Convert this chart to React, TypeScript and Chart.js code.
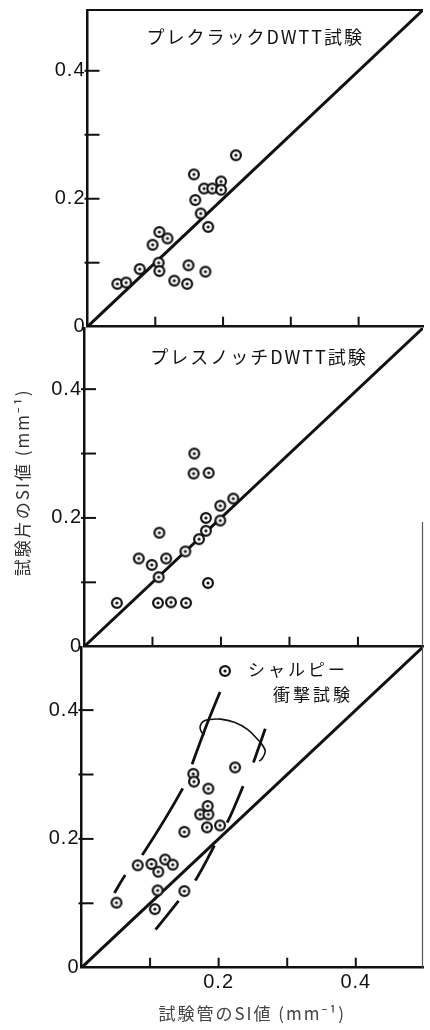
import React, { useEffect, useRef } from 'react';
import { Chart, registerables } from 'chart.js';

Chart.register(...registerables);

// ---------------- data ----------------
const TICK_VALUES = [0, 0.1, 0.2, 0.3, 0.4];
const Y_LABELED = [0, 0.2, 0.4];
const X_LABELED = [0.2, 0.4];

const DIAG_X = [0, 0.5];
const DIAG_Y = [0, 0.5];

const TITLE_PRECRACK = 'プレクラックDWTT試験';
const TITLE_PRESSNOTCH = 'プレスノッチDWTT試験';
const LEGEND_CHARPY = ['シャルピー', '衝撃試験'];
const Y_TITLE = '試験片のSI値 (mm⁻¹)';
const X_TITLE = '試験管のSI値 (mm⁻¹)';

// プレクラックDWTT試験
const PRECRACK_X = [0.044, 0.057, 0.077, 0.096, 0.106, 0.118, 0.105, 0.106, 0.128, 0.149, 0.147, 0.174, 0.178, 0.167, 0.159, 0.157, 0.172, 0.184, 0.197, 0.197, 0.219];
const PRECRACK_Y = [0.067, 0.069, 0.090, 0.128, 0.148, 0.138, 0.100, 0.087, 0.072, 0.096, 0.067, 0.086, 0.156, 0.177, 0.198, 0.238, 0.216, 0.216, 0.227, 0.214, 0.268];

// プレスノッチDWTT試験
const PRESSNOTCH_X = [0.048, 0.108, 0.127, 0.149, 0.181, 0.080, 0.099, 0.120, 0.109, 0.110, 0.148, 0.168, 0.178, 0.178, 0.199, 0.199, 0.218, 0.161, 0.160, 0.182];
const PRESSNOTCH_Y = [0.068, 0.068, 0.069, 0.068, 0.099, 0.137, 0.127, 0.137, 0.108, 0.177, 0.148, 0.167, 0.180, 0.200, 0.196, 0.219, 0.230, 0.300, 0.269, 0.270];

// シャルピー衝撃試験
const CHARPY_X = [0.051, 0.107, 0.111, 0.150, 0.082, 0.102, 0.112, 0.122, 0.133, 0.150, 0.183, 0.202, 0.173, 0.185, 0.184, 0.185, 0.163, 0.164, 0.224];
const CHARPY_Y = [0.101, 0.091, 0.120, 0.119, 0.159, 0.161, 0.149, 0.168, 0.160, 0.211, 0.218, 0.221, 0.238, 0.238, 0.251, 0.278, 0.301, 0.289, 0.311];

// scatter band (dashed envelopes) and bracket
const BAND_LEFT_X = [0.048, 0.064, 0.091, 0.151, 0.163, 0.184, 0.202];
const BAND_LEFT_Y = [0.116, 0.144, 0.179, 0.285, 0.321, 0.381, 0.428];
const BAND_RIGHT_X = [0.108, 0.141, 0.168, 0.196, 0.216, 0.239, 0.247, 0.268];
const BAND_RIGHT_Y = [0.059, 0.103, 0.139, 0.194, 0.233, 0.290, 0.308, 0.371];
const BRACKET_X = [0.179, 0.174, 0.173, 0.177, 0.184, 0.203, 0.223, 0.242, 0.259, 0.263, 0.268, 0.263, 0.259];
const BRACKET_Y = [0.361, 0.368, 0.375, 0.382, 0.385, 0.386, 0.381, 0.370, 0.352, 0.347, 0.336, 0.324, 0.321];

// ---------------- helpers ----------------
const INK = '#111';
const TICK_FONT = { family: '"Liberation Sans", Arial, sans-serif', size: 20 };
const JP_FAMILY = '"Noto Sans CJK JP", "Noto Sans", sans-serif';

let markerCache: HTMLCanvasElement | null = null;
function marker(): HTMLCanvasElement {
  if (markerCache) return markerCache;
  const c = document.createElement('canvas');
  c.width = 14;
  c.height = 14;
  const g = c.getContext('2d')!;
  g.beginPath();
  g.arc(7, 7, 4.9, 0, Math.PI * 2);
  g.fillStyle = '#fff';
  g.fill();
  g.lineWidth = 2.2;
  g.strokeStyle = INK;
  g.stroke();
  g.beginPath();
  g.arc(7, 7, 1.6, 0, Math.PI * 2);
  g.fillStyle = INK;
  g.fill();
  markerCache = c;
  return c;
}

const pts = (xs: number[], ys: number[]) => xs.map((x, i) => ({ x, y: ys[i] }));
const isIn = (list: number[], v: number) => list.some((l) => Math.abs(l - v) < 1e-6);
const fmt = (v: number) => (Math.abs(v) < 1e-9 ? '0' : v.toFixed(1));

function pointSet(xs: number[], ys: number[]) {
  return {
    type: 'scatter',
    data: pts(xs, ys),
    pointStyle: marker(),
    pointRadius: 6,
    showLine: false,
    order: 0,
  };
}

function lineSet(xs: number[], ys: number[], extra: any = {}) {
  return {
    type: 'scatter',
    data: pts(xs, ys),
    showLine: true,
    pointRadius: 0,
    borderColor: INK,
    backgroundColor: INK,
    borderWidth: 3,
    fill: false,
    order: 1,
    ...extra,
  };
}

const decoPlugin = {
  id: 'deco',
  beforeDraw(chart: any) {
    (chart.ctx as any).letterSpacing = '1px';
  },
  afterDatasetsDraw(chart: any, _args: any, opts: any) {
    const { ctx, chartArea: a, scales } = chart;
    const xs = scales.x;
    const ys = scales.y;
    ctx.save();
    ctx.strokeStyle = INK;
    ctx.lineCap = 'butt';
    const seg = (x1: number, y1: number, x2: number, y2: number, w: number) => {
      ctx.lineWidth = w;
      ctx.beginPath();
      ctx.moveTo(x1, y1);
      ctx.lineTo(x2, y2);
      ctx.stroke();
    };
    // inward tick marks
    TICK_VALUES.slice(1).forEach((v) => {
      const px = xs.getPixelForValue(v);
      seg(px, a.bottom, px, a.bottom - 10, 2);
      const py = ys.getPixelForValue(v);
      seg(a.left - 3, py, a.left + 12, py, 2);
    });
    if (opts.topBorder) seg(a.left, a.top, a.right, a.top, 2.2);
    if (opts.rightFrom != null) {
      ctx.strokeStyle = '#555';
      seg(a.right - 0.5, a.top + opts.rightFrom, a.right - 0.5, a.bottom, 1.2);
      ctx.strokeStyle = INK;
    }
    ctx.fillStyle = INK;
    ctx.textBaseline = 'middle';
    if (opts.title) {
      ctx.font = `18px ${JP_FAMILY}`;
      (ctx as any).letterSpacing = '2px';
      ctx.textAlign = 'center';
      ctx.fillText(opts.title, (a.left + a.right) / 2 + opts.titleDx, a.top + opts.titleDy);
    }
    if (opts.legend) {
      const m = marker();
      ctx.drawImage(m, a.left + 143.5 - m.width / 2, a.top + 24 - m.height / 2);
      ctx.font = `17px ${JP_FAMILY}`;
      (ctx as any).letterSpacing = '3px';
      ctx.textAlign = 'left';
      ctx.fillText(opts.legend[0], a.left + 166.5, a.top + 23);
      ctx.fillText(opts.legend[1], a.left + 191.5, a.top + 48);
    }
    if (opts.yTitle) {
      ctx.save();
      ctx.font = `17px ${JP_FAMILY}`;
      (ctx as any).letterSpacing = '2px';
      ctx.fillStyle = '#333';
      ctx.textAlign = 'center';
      ctx.translate(22.5, (a.top + a.bottom) / 2 - 5);
      ctx.rotate(-Math.PI / 2);
      ctx.fillText(opts.yTitle, 0, 0);
      ctx.restore();
    }
    if (opts.xTitle) {
      ctx.font = `17px ${JP_FAMILY}`;
      (ctx as any).letterSpacing = '2px';
      ctx.fillStyle = '#444';
      ctx.textAlign = 'center';
      ctx.fillText(opts.xTitle, (a.left + a.right) / 2, a.bottom + 46);
    }
    ctx.restore();
  },
};

type PanelCfg = {
  canvasTop: number;
  canvasHeight: number;
  areaTop: number;
  areaBottom: number;
  areaLeft: number;
  areaRight: number;
  max: number;
  datasets: () => any[];
  title?: string;
  titleDx?: number;
  titleDy?: number;
  legend?: string[];
  xLabels: boolean;
  yTitle?: string;
  xTitle?: string;
  topBorder?: boolean;
  rightFrom?: number | null;
};

function buildConfig(p: PanelCfg): any {
  const bottomSpace = p.canvasTop + p.canvasHeight - p.areaBottom;
  return {
    type: 'scatter',
    data: { datasets: p.datasets() },
    plugins: [decoPlugin],
    options: {
      animation: false,
      responsive: false,
      events: [],
      layout: {
        padding: {
          left: 0,
          right: 430 - p.areaRight,
          top: p.areaTop - p.canvasTop,
          bottom: p.xLabels ? 0 : bottomSpace,
        },
      },
      scales: {
        x: {
          type: 'linear',
          position: 'bottom',
          min: 0,
          max: p.max,
          afterBuildTicks: (s: any) => {
            s.ticks = TICK_VALUES.map((v) => ({ value: v }));
          },
          afterFit: (s: any) => {
            s.height = p.xLabels ? bottomSpace : 0;
            s.paddingLeft = 0;
            s.paddingRight = 0;
          },
          grid: { display: false, drawTicks: false },
          border: { display: true, color: INK, width: 2.5 },
          ticks: {
            display: p.xLabels,
            padding: 3,
            autoSkip: false,
            maxRotation: 0,
            font: TICK_FONT,
            color: INK,
            callback: (v: number) => (isIn(X_LABELED, v) ? fmt(v) : ''),
          },
          title: { display: false },
        },
        y: {
          type: 'linear',
          position: 'left',
          min: 0,
          max: p.max,
          afterBuildTicks: (s: any) => {
            s.ticks = TICK_VALUES.map((v) => ({ value: v }));
          },
          afterFit: (s: any) => {
            s.width = p.areaLeft;
            s.paddingTop = 0;
            s.paddingBottom = 0;
          },
          grid: { display: false, drawTicks: false },
          border: { display: true, color: INK, width: 2.5 },
          ticks: {
            padding: 2,
            autoSkip: false,
            font: TICK_FONT,
            color: INK,
            callback: (v: number) => (isIn(Y_LABELED, v) ? fmt(v) : ''),
          },
          title: { display: false },
        },
      },
      plugins: {
        legend: { display: false },
        tooltip: { enabled: false },
        deco: {
          title: p.title,
          titleDx: p.titleDx || 0,
          titleDy: p.titleDy || 0,
          legend: p.legend,
          topBorder: !!p.topBorder,
          rightFrom: p.rightFrom ?? null,
          yTitle: p.yTitle,
          xTitle: p.xTitle,
        },
      },
    },
  };
}

const PANELS: PanelCfg[] = [
  {
    canvasTop: 0,
    canvasHeight: 340,
    areaTop: 10,
    areaBottom: 326.7,
    areaLeft: 87.5,
    areaRight: 429.5,
    max: 0.495,
    datasets: () => [pointSet(PRECRACK_X, PRECRACK_Y), lineSet(DIAG_X, DIAG_Y, { clip: 0 })],
    title: TITLE_PRECRACK,
    titleDx: 0,
    titleDy: 27,
    xLabels: false,
    topBorder: true,
  },
  {
    canvasTop: 320,
    canvasHeight: 340,
    areaTop: 328,
    areaBottom: 646.7,
    areaLeft: 84,
    areaRight: 429.5,
    max: 0.495,
    datasets: () => [pointSet(PRESSNOTCH_X, PRESSNOTCH_Y), lineSet(DIAG_X, DIAG_Y, { clip: 0 })],
    title: TITLE_PRESSNOTCH,
    titleDx: 5.5,
    titleDy: 29,
    xLabels: false,
    yTitle: Y_TITLE,
    rightFrom: 194,
  },
  {
    canvasTop: 640,
    canvasHeight: 390,
    areaTop: 647,
    areaBottom: 967.7,
    areaLeft: 81.5,
    areaRight: 429,
    max: 0.498,
    datasets: () => [
      pointSet(CHARPY_X, CHARPY_Y),
      lineSet(DIAG_X, DIAG_Y, { clip: 0 }),
      lineSet(BAND_LEFT_X, BAND_LEFT_Y, { tension: 0.3, borderDash: [78, 26], borderDashOffset: 57, borderWidth: 2.8 }),
      lineSet(BAND_RIGHT_X, BAND_RIGHT_Y, { tension: 0.3, borderDash: [40, 26], borderDashOffset: 3, borderWidth: 2.8 }),
      lineSet(BRACKET_X, BRACKET_Y, { tension: 0.4, borderWidth: 1.6 }),
    ],
    legend: LEGEND_CHARPY,
    xLabels: true,
    xTitle: X_TITLE,
    rightFrom: 0,
  },
];

function Panel({ cfg }: { cfg: PanelCfg }) {
  const ref = useRef<HTMLCanvasElement>(null);
  useEffect(() => {
    const chart = new Chart(ref.current as HTMLCanvasElement, buildConfig(cfg));
    return () => chart.destroy();
  }, [cfg]);
  return (
    <canvas
      ref={ref}
      width={430}
      height={cfg.canvasHeight}
      style={{ position: 'absolute', left: 0, top: cfg.canvasTop, width: 430, height: cfg.canvasHeight }}
    />
  );
}

export default function App() {
  return (
    <div style={{ position: 'absolute', left: 0, top: 0, width: 430, height: 1030, background: '#fff', overflow: 'hidden' }}>
      {PANELS.map((p, i) => (
        <Panel key={i} cfg={p} />
      ))}
    </div>
  );
}
